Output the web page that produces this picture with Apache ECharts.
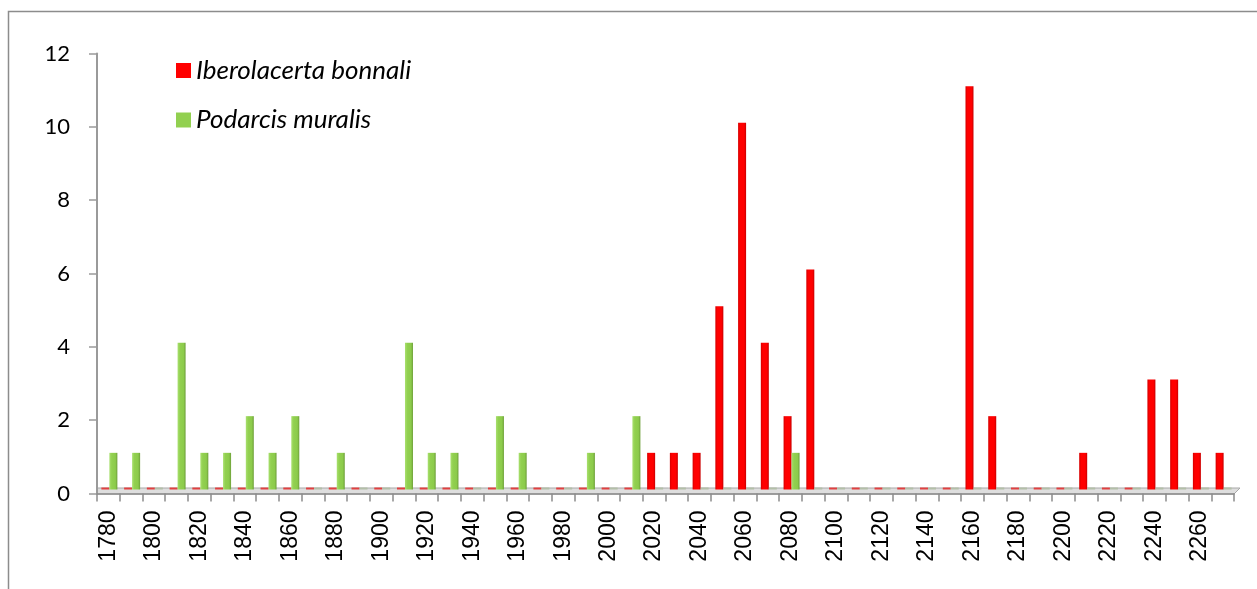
<!DOCTYPE html>
<html>
<head>
<meta charset="utf-8">
<script src="https://cdn.jsdelivr.net/npm/echarts@6/dist/echarts.min.js"></script>
<style>html,body{margin:0;padding:0;background:#fff;}#c{width:1257px;height:589px;}</style>
</head>
<body>
<div id="c"></div>
<script>
const years = [];
for (let y = 1780; y <= 2270; y += 10) years.push(String(y));

const seriesNames = ['Iberolacerta bonnali', 'Podarcis muralis'];

const iberolacerta = [
  0,0,0,0,0,0,0,0,0,0,
  0,0,0,0,0,0,0,0,0,0,
  0,0,0,0,1,1,1,5,10,4,
  2,6,0,0,0,0,0,0,11,2,
  0,0,0,1,0,0,3,3,1,1
];

const podarcis = [
  1,1,0,4,1,1,2,1,2,0,
  1,0,0,4,1,1,0,2,1,0,
  0,1,0,2,0,0,0,0,0,0,
  1,0,0,0,0,0,0,0,0,0,
  0,0,0,0,0,0,0,0,0,0
];

const yTicks = [0, 2, 4, 6, 8, 10, 12];

const chart = echarts.init(document.getElementById('c'), null, {renderer: 'canvas'});

const redGrad = new echarts.graphic.LinearGradient(0, 0, 1, 0, [
  {offset: 0, color: '#d40000'},
  {offset: 0.25, color: '#ff0000'},
  {offset: 0.75, color: '#ff0000'},
  {offset: 1, color: '#c80000'}
]);
const greenGrad = new echarts.graphic.LinearGradient(0, 0, 1, 0, [
  {offset: 0, color: '#a9e06f'},
  {offset: 0.3, color: '#92d050'},
  {offset: 0.75, color: '#8ccb4b'},
  {offset: 1, color: '#6e9f3a'}
]);

function toItems(arr, zeroColor) {
  return arr.map(v => v === 0 ? {value: v, itemStyle: {color: zeroColor}} : v);
}

chart.setOption({
  animation: false,
  backgroundColor: '#ffffff',
  graphic: [
    {type: 'rect', z: 0, shape: {x: 8.5, y: 11.5, width: 1400, height: 800},
     style: {fill: 'none', stroke: '#8c8c8c', lineWidth: 1.5}},
    {type: 'polygon', z: 0, shape: {points: [[97, 488], [1240, 488], [1234, 494], [97, 494]]},
     style: {fill: '#dedede', stroke: '#a8a8a8', lineWidth: 1}}
  ],
  legend: {
    orient: 'vertical',
    left: 171,
    top: 52.5,
    itemWidth: 15,
    itemHeight: 15,
    itemGap: 23.5,
    icon: 'rect',
    data: [
      {name: seriesNames[0], itemStyle: {color: '#ff0000'}},
      {name: seriesNames[1], itemStyle: {color: '#92d050'}}
    ],
    textStyle: {fontFamily: 'Lato', fontStyle: 'italic', fontSize: 26, color: '#000'}
  },
  grid: [
    {left: 97, right: 23, top: 53.5, bottom: 95.5, containLabel: false},
    {left: 98, right: 22, top: 49.5, bottom: 99.5, containLabel: false}
  ],
  xAxis: [
    {
      type: 'category', gridIndex: 0, data: years, boundaryGap: true,
      axisLine: {show: true, lineStyle: {color: '#8c8c8c', width: 1.5}},
      axisTick: {show: true, interval: 0, length: 8, alignWithLabel: false, lineStyle: {color: '#8c8c8c', width: 1.5}},
      axisLabel: {interval: 1, rotate: 90, margin: 17, fontFamily: 'Liberation Sans', fontSize: 23, color: '#000'},
      splitLine: {show: false}
    },
    {
      type: 'category', gridIndex: 1, data: years, boundaryGap: true,
      axisLine: {show: false}, axisTick: {show: false}, axisLabel: {show: false}, splitLine: {show: false}
    }
  ],
  yAxis: [
    {
      type: 'value', gridIndex: 0, min: yTicks[0], max: yTicks[yTicks.length - 1], interval: 2,
      axisLine: {show: true, lineStyle: {color: '#9a9a9a', width: 2}},
      axisTick: {show: true, length: 8, lineStyle: {color: '#9a9a9a', width: 1.5}},
      axisLabel: {margin: 27, fontFamily: 'Lato', fontSize: 22, color: '#000'},
      splitLine: {show: false}
    },
    {
      type: 'value', gridIndex: 1, min: yTicks[0], max: yTicks[yTicks.length - 1], interval: 2,
      axisLine: {show: false}, axisTick: {show: false}, axisLabel: {show: false}, splitLine: {show: false}
    }
  ],
  series: [
    {
      name: seriesNames[0], type: 'bar', xAxisIndex: 1, yAxisIndex: 1,
      data: toItems(iberolacerta, '#e04040'), barWidth: 8, barGap: '0%', barMinHeight: 2, z: 3,
      itemStyle: {color: redGrad}
    },
    {
      name: seriesNames[1], type: 'bar', xAxisIndex: 1, yAxisIndex: 1,
      data: toItems(podarcis, '#b3bfa8'), barWidth: 8, barGap: '0%', barMinHeight: 2, z: 3,
      itemStyle: {color: greenGrad}
    }
  ]
});
</script>
</body>
</html>
